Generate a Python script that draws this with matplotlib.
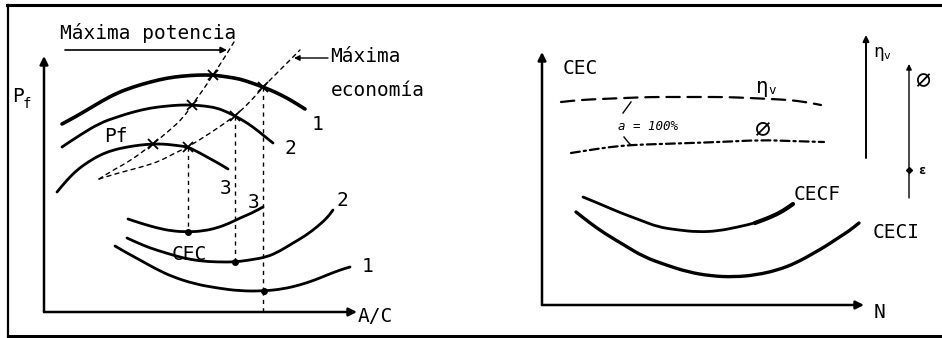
import matplotlib
matplotlib.use("Agg")
import matplotlib.pyplot as plt
from matplotlib.lines import Line2D
from matplotlib.path import Path
from matplotlib.patches import PathPatch

FONT = "DejaVu Sans Mono"
FS = 14

# ---------------- left panel: Pf and CEC versus A/C ----------------
pf1_x = [18, 31, 43, 58, 73, 89, 106, 123, 139, 154, 169, 184, 196, 208, 219, 231, 243, 253, 261]
pf1_y = [188, 195, 202, 211, 219, 225, 230, 234, 236, 237, 237, 235, 233, 229, 225, 220, 214, 208, 203]
pf2_x = [18, 36, 56, 73, 89, 106, 123, 136, 148, 161, 173, 183, 191, 200, 209, 219, 229]
pf2_y = [165, 177, 189, 195, 200, 204, 206, 207, 207, 206, 204, 200, 196, 191, 185, 177, 169]
pf3_x = [13, 23, 33, 44, 56, 69, 83, 96, 109, 119, 129, 137, 144, 154, 163, 174, 184]
pf3_y = [120, 132, 142, 150, 157, 162, 165, 167, 168, 168, 167, 166, 165, 160, 155, 149, 143]

cec3_x = [84, 96, 113, 128, 144, 159, 173, 186, 196, 208, 219]
cec3_y = [93, 89, 84, 81, 80, 81, 84, 89, 94, 99, 105]
cec2_x = [83, 94, 106, 122, 139, 156, 173, 191, 206, 223, 236, 249, 261, 273, 283, 289]
cec2_y = [74, 69, 64, 59, 54, 51, 50, 50, 52, 55, 61, 69, 76, 85, 94, 102]
cec1_x = [71, 83, 96, 112, 129, 151, 173, 196, 220, 239, 256, 271, 283, 296, 306]
cec1_y = [66, 59, 52, 43, 35, 28, 24, 21, 21, 23, 27, 32, 37, 42, 45]

# loci of maximum power and maximum economy
pow_x = [55, 71, 86, 109, 126, 139, 148, 159, 169, 179, 190]
pow_y = [133, 143, 151, 168, 182, 194, 207, 222, 237, 252, 270]
eco_x = [55, 71, 86, 101, 116, 131, 144, 168, 191, 206, 219, 238, 256]
eco_y = [133, 138, 142, 146, 151, 159, 165, 180, 196, 210, 225, 244, 262]

# operating points (maximum power / maximum economy) on each Pf curve
pow_pts_x = [169, 148, 109]
pow_pts_y = [237, 207, 168]
eco_pts_x = [219, 191, 144]
eco_pts_y = [225, 196, 165]
# matching minimum-consumption points on each CEC curve
cec_min_x = [220, 191, 144]
cec_min_y = [21, 50, 80]

# ---------------- right panel: CEC versus N ----------------
eta_x = [19, 38, 58, 83, 108, 133, 158, 183, 208, 228, 248, 263, 279]
eta_y = [203, 205, 206, 207, 208, 208, 208, 208, 207, 206, 205, 203, 200]
phi_x = [29, 48, 68, 89, 118, 148, 178, 219, 248, 282]
phi_y = [152, 155, 158, 160, 161, 162, 163, 165, 164, 163]
cecf_x = [41, 58, 79, 98, 116, 136, 156, 176, 196, 213, 229, 241, 251]
cecf_y = [108, 101, 92, 85, 78, 75, 73, 74, 78, 82, 88, 94, 101]
ceci_x = [34, 48, 62, 82, 102, 124, 146, 169, 192, 214, 236, 254, 272, 284, 296, 307, 317]
ceci_y = [93, 82, 72, 60, 48, 40, 33, 29, 28, 30, 35, 42, 52, 59, 67, 74, 82]

fig = plt.figure(figsize=(9.42, 3.38), dpi=100)
fig.patch.set_facecolor("white")

# outer frame
fig.add_artist(Line2D([7 / 942, 1], [1 - 5 / 338, 1 - 5 / 338], color="black", lw=2.2))
fig.add_artist(Line2D([8 / 942, 8 / 942], [0, 1 - 5 / 338], color="black", lw=1.6))
fig.add_artist(Line2D([8 / 942, 1], [2 / 338, 2 / 338], color="black", lw=2.2))

axL = fig.add_axes([0, 0, 0.5, 1])
axL.set_xlim(-44, 427)
axL.set_ylim(-26, 312)
axR = fig.add_axes([0.5, 0, 0.5, 1])
axR.set_xlim(-71, 400)
axR.set_ylim(-33, 305)
for ax in (axL, axR):
    ax.axis("off")
    ax.patch.set_alpha(0)


def curve(ax, xs, ys, lw=2.0, ls="-"):
    """Smooth stroke through the listed points (quadratic Bezier path)."""
    pts = list(zip(xs, ys))
    verts = [pts[0]]
    codes = [Path.MOVETO]
    mid = lambda a, b: ((a[0] + b[0]) / 2, (a[1] + b[1]) / 2)
    verts.append(mid(pts[0], pts[1]))
    codes.append(Path.LINETO)
    for i in range(1, len(pts) - 1):
        verts += [pts[i], mid(pts[i], pts[i + 1])]
        codes += [Path.CURVE3, Path.CURVE3]
    verts.append(pts[-1])
    codes.append(Path.LINETO)
    ax.add_patch(PathPatch(Path(verts, codes), fill=False, edgecolor="black",
                           lw=lw, linestyle=ls, capstyle="round", joinstyle="round"))


def arrow(ax, x0, y0, x1, y1, lw=1.8, ms=12):
    ax.annotate("", xy=(x1, y1), xytext=(x0, y0),
                arrowprops=dict(arrowstyle="-|>", lw=lw, color="black",
                                mutation_scale=ms, shrinkA=0, shrinkB=0))


def txt(ax, x, y, s, fs=FS, ha="left", va="center", **kw):
    ax.text(x, y, s, fontsize=fs, family=FONT, ha=ha, va=va, color="black", **kw)


DASH = (0, (3, 3))

# ---- left panel ----
arrow(axL, 0, 0, 0, 256)
arrow(axL, 0, 0, 313, 0)
txt(axL, -32, 215, "P")
txt(axL, -21, 208, "f", fs=10)
txt(axL, 314, -5, "A/C")

curve(axL, pf1_x, pf1_y, lw=2.6)
curve(axL, pf2_x, pf2_y)
curve(axL, pf3_x, pf3_y)
curve(axL, cec3_x, cec3_y)
curve(axL, cec2_x, cec2_y)
curve(axL, cec1_x, cec1_y)

curve(axL, pow_x, pow_y, lw=1.0, ls=DASH)
curve(axL, eco_x, eco_y, lw=1.0, ls=DASH)

axL.plot(pow_pts_x, pow_pts_y, "x", color="black", ms=7, mew=1.3)
axL.plot(eco_pts_x, eco_pts_y, "x", color="black", ms=7, mew=1.3)
axL.plot(cec_min_x, cec_min_y, "o", color="black", ms=4)

# drop lines from maximum-economy points to the CEC minima
for xe, ye, ym in zip(eco_pts_x, eco_pts_y, cec_min_y):
    axL.plot([xe, xe], [ye, ym], color="black", lw=1.0, dashes=(3, 3))
axL.plot([eco_pts_x[0], eco_pts_x[0]], [cec_min_y[0], 0], color="black", lw=1.0, dashes=(3, 3))

txt(axL, 268, 187, "1")
txt(axL, 241, 163, "2")
txt(axL, 176, 124, "3")
txt(axL, 60, 175, "Pf")
txt(axL, 204, 110, "3")
txt(axL, 292, 112, "2")
txt(axL, 318, 45, "1")
txt(axL, 128, 57, "CEC")

txt(axL, 16, 279, "Máxima potencia")
arrow(axL, 21, 262, 183, 262, lw=1.2, ms=9)
txt(axL, 286, 256, "Máxima")
txt(axL, 287, 222, "economía")
arrow(axL, 284, 254, 250, 254, lw=1.0, ms=8)

# ---- right panel ----
arrow(axR, 0, 0, 0, 253)
arrow(axR, 0, 0, 322, 0)
txt(axR, 332, -8, "N")
txt(axR, 21, 237, "CEC")

curve(axR, eta_x, eta_y, lw=1.6, ls=(0, (6, 3.5)))
curve(axR, phi_x, phi_y, lw=1.6, ls=(0, (4, 1.8, 1, 1.8)))
curve(axR, cecf_x, cecf_y)
curve(axR, cecf_x[-4:], cecf_y[-4:], lw=3.0)
curve(axR, ceci_x, ceci_y, lw=2.4)

txt(axR, 214, 218, "η", fs=15)
txt(axR, 226, 214, "v", fs=9)
txt(axR, 212, 176, "∅", fs=19)
txt(axR, 76, 179, "a = 100%", fs=9, style="italic")
axR.plot([81, 89], [192, 203], color="black", lw=1.0)
axR.plot([82, 86, 89], [168, 163, 160], color="black", lw=1.0)

txt(axR, 252, 110, "CECF")
txt(axR, 331, 73, "CECI")

arrow(axR, 324, 147, 324, 270, lw=1.4, ms=9)
txt(axR, 331, 253, "η", fs=13)
txt(axR, 341, 249, "v", fs=8)
arrow(axR, 367, 107, 367, 241, lw=1.0, ms=8)
txt(axR, 373, 224, "∅", fs=18)
axR.plot([367], [135], marker="D", color="black", ms=3)
txt(axR, 376, 134, "ε", fs=9, weight="bold")

fig.savefig("out.png", dpi=100, facecolor="white")
